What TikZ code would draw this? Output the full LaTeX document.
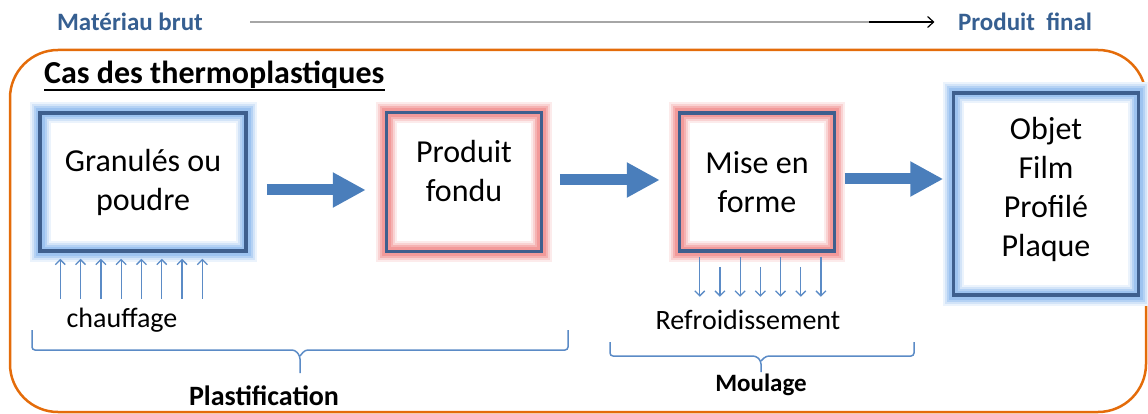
\documentclass[tikz,border=0pt]{standalone}
\usepackage{fontspec}
\setmainfont{Carlito}
\usetikzlibrary{arrows.meta,positioning}
\definecolor{orangeframe}{HTML}{E46C0A}
\definecolor{boxline}{HTML}{3E5F8E}
\definecolor{glowblue}{HTML}{9DC3F0}
\definecolor{glowred}{HTML}{F29A9A}
\definecolor{flowblue}{HTML}{4A7EBB}
\definecolor{thinblue}{HTML}{5B8BC6}
\definecolor{headblue}{HTML}{365F91}

\begin{document}
\begin{tikzpicture}[x=1pt,y=-1pt]
    \tikzset{
    box/.style={draw=boxline, line width=3.5pt, align=center, inner sep=0pt, font=\fontsize{32}{39}\selectfont},
    coldbox/.style={box, preaction={draw=glowblue!20, line width=21pt}, preaction={draw=glowblue!45, line width=17pt}, preaction={draw=glowblue!75, line width=13pt}, preaction={draw=glowblue, line width=9pt}},
    hotbox/.style={box, preaction={draw=glowred!20, line width=21pt}, preaction={draw=glowred!45, line width=17pt}, preaction={draw=glowred!75, line width=13pt}, preaction={draw=glowred, line width=9pt}},
    flow/.style={draw=flowblue, line width=11pt, -{Triangle[length=33pt,width=33pt]}},
    heat/.style={draw=thinblue, line width=1.3pt, -{Straight Barb[length=5pt,width=10pt]}},
    brace/.style={draw=thinblue, line width=1.5pt, rounded corners=3pt},
    header/.style={font=\fontsize{25}{29}\selectfont\bfseries, text=headblue},
    note/.style={font=\fontsize{28}{32}\selectfont},
    }
    \useasboundingbox (0,0) rectangle (1148,414);

    % raw material -> final product
    \node[header] (raw) at (130,22) {Matériau brut};
    \node[header] (final) at (1025,22) {Produit\ \ final};
    \draw[gray!70, line width=1.2pt, shorten <=44pt, shorten >=20pt] (raw) -- (final);
    \draw[line width=1.2pt, -{Straight Barb[length=6pt,width=11pt]}] ([xshift=-85pt]final.west) -- ([xshift=-20pt]final.west);

    % frame
    \draw[orangeframe, line width=2.5pt, rounded corners=48pt] (10,50) rectangle (1146,412);
    \node[anchor=base west, inner sep=0pt, font=\fontsize{32}{36}\selectfont\bfseries] (title) at (44,84) {Cas des thermoplastiques};
    \draw[line width=2.5pt] ([yshift=-6pt]title.base west) -- ([yshift=-6pt]title.base east);

    % stages
    \node[coldbox, minimum width=206pt, minimum height=138pt] (grains) at (143,182) {Granulés ou\\poudre};
    \node[hotbox, minimum width=155pt, minimum height=139pt, text depth=22pt] (melt) at (464,182) {Produit\\fondu};
    \node[hotbox, minimum width=155pt, minimum height=138pt] (shaping) at (757,182) {Mise en\\forme};
    \node[coldbox, minimum width=185pt, minimum height=202pt, text depth=14pt] (product) at (1046,194) {Objet\\Film\\Profilé\\Plaque};

    \draw[flow] ([xshift=19pt,yshift=-8pt]grains.east) -- ([xshift=-19pt,yshift=-8pt]melt.west);
    \draw[flow] ([xshift=16.5pt,yshift=2pt]melt.east) -- ([xshift=-18pt,yshift=2pt]shaping.west);
    \draw[flow, shorten >=8.5pt] ([xshift=8.5pt,yshift=3pt]shaping.east) coordinate (s3) -- (s3 -| product.west);

    % heating / cooling
    \foreach \i in {0,...,7}
        \draw[heat] ([xshift={22pt+20.3pt*\i}, yshift=-46pt]grains.south west) -- ([xshift={22pt+20.3pt*\i}, yshift=-6pt]grains.south west);
    \foreach \i/\s in {0/4,1/14,2/4,3/14,4/4,5/14,6/4}
        \draw[heat] ([xshift={22pt+20.2pt*\i}, yshift=-\s pt]shaping.south west) -- ([xshift={22pt+20.2pt*\i}, yshift=-44pt]shaping.south west);
    \node[note] (heating) at (122,320) {chauffage};
    \node[note] (cooling) at (748,320) {Refroidissement};

    % braces
    \draw[brace] (32,330) -- (32,350) -- (295,350) -- (300,356) -- (300,373);
    \draw[brace] (300,356) -- (305,350) -- (568,350) -- (568,330);
    \node[font=\fontsize{28}{31}\selectfont\bfseries] (plast) at (264,396) {Plastification};
    \draw[brace] (610,342) -- (610,356) -- (756,356) -- (761,361) -- (761,372);
    \draw[brace] (761,361) -- (766,356) -- (914,356) -- (914,342);
    \node[font=\fontsize{25}{28}\selectfont\bfseries] (mould) at (761,385) {Moulage};
\end{tikzpicture}
\end{document}
